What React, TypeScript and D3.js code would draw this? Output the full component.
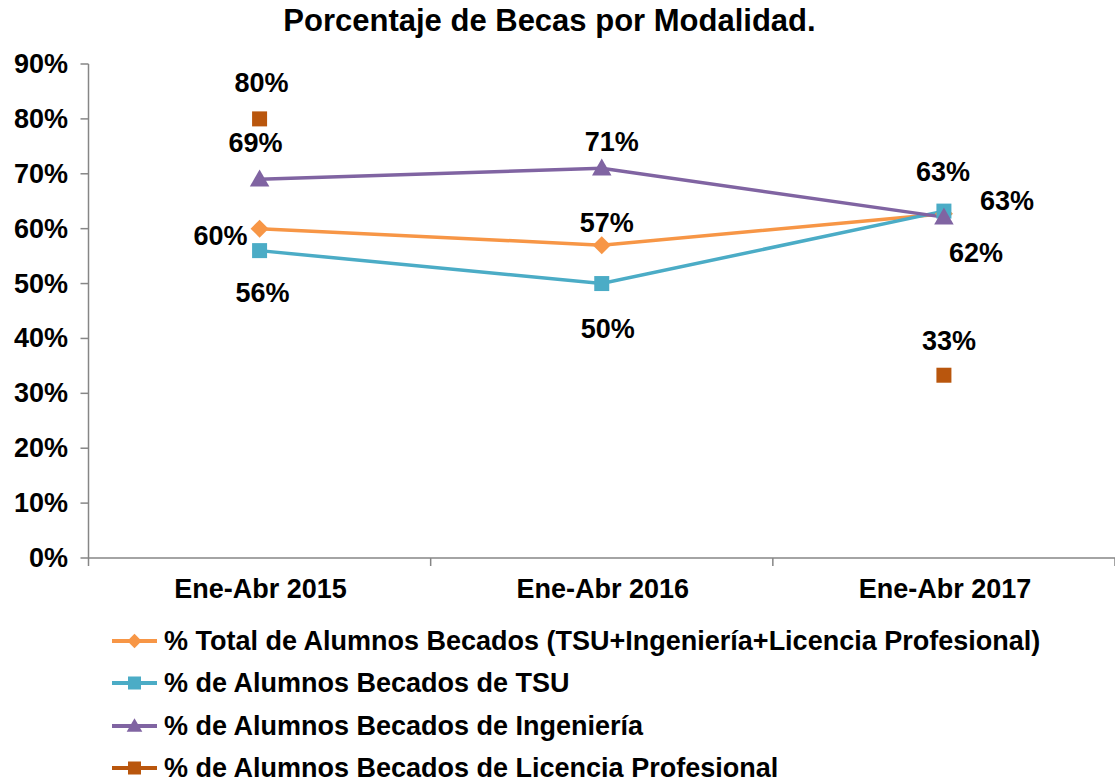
import React from "react";
import * as d3 from "d3";

const categories = ["Ene-Abr 2015", "Ene-Abr 2016", "Ene-Abr 2017"];
const totalValues = [60, 57, 62.7];
const tsuValues = [56, 50, 63.2];
const ingValues = [69, 71, 62.1];
const licValues: (number | null)[] = [80, null, 33.3];
const yTicks = [0, 10, 20, 30, 40, 50, 60, 70, 80, 90];

const seriesNames = [
  "% Total de Alumnos Becados (TSU+Ingeniería+Licencia Profesional)",
  "% de Alumnos Becados de TSU",
  "% de Alumnos Becados de Ingeniería",
  "% de Alumnos Becados de Licencia Profesional",
];

const W = 1115, H = 782;
const left = 88.5, right = 1115, top = 64, bottom = 558;
const FONT = "Liberation Sans, Arial, sans-serif";

// label offsets (dx, dy from the point; dy to baseline)
const labelOffsets: [number, number][][] = [
  [[-39, 16], [5, -13], [63, -4]],
  [[3, 51], [6, 54], [-1, -30]],
  [[-4, -27], [10, -17], [32, 45]],
  [[2, -27], [0, 0], [5, -25]],
];

const series = [
  { name: seriesNames[0], values: totalValues as (number | null)[], color: "#F79646", marker: "diamond", line: true },
  { name: seriesNames[1], values: tsuValues as (number | null)[], color: "#4BACC6", marker: "square", line: true },
  { name: seriesNames[2], values: ingValues as (number | null)[], color: "#8064A2", marker: "triangle", line: true },
  { name: seriesNames[3], values: licValues, color: "#B9560D", marker: "square", line: false },
];

function Marker({ type, x, y, color, size }: { type: string; x: number; y: number; color: string; size: number }) {
  if (type === "square") {
    return <rect x={x - size / 2} y={y - size / 2} width={size} height={size} fill={color} />;
  }
  if (type === "diamond") {
    const s = size * 0.6;
    return <path d={`M${x},${y - s}L${x + s},${y}L${x},${y + s}L${x - s},${y}Z`} fill={color} />;
  }
  const s = size * 0.65;
  return <path d={`M${x},${y - s}L${x + s},${y + s * 0.75}L${x - s},${y + s * 0.75}Z`} fill={color} />;
}

export default function App() {
  const x = d3.scaleBand<string>().domain(categories).range([left, right]);
  const y = d3.scaleLinear().domain([0, 90]).range([bottom, top]);
  const cx = (c: string) => (x(c) as number) + x.bandwidth() / 2;

  const lineGen = d3
    .line<[string, number | null]>()
    .defined((d) => d[1] !== null)
    .x((d) => cx(d[0]))
    .y((d) => y(d[1] as number));

  return (
    <svg width={W} height={H} style={{ display: "block", position: "absolute", left: 0, top: 0 }}>
      <rect x={0} y={0} width={W} height={H} fill="#fff" />
      <text x={549.5} y={31} textAnchor="middle" fontFamily={FONT} fontWeight="bold" fontSize={31} fill="#000">
        Porcentaje de Becas por Modalidad.
      </text>
      {/* y axis */}
      <line x1={left} x2={left} y1={top} y2={bottom} stroke="#868686" strokeWidth={1.5} />
      {yTicks.map((t) => (
        <g key={t}>
          <line x1={left - 8} x2={left} y1={y(t)} y2={y(t)} stroke="#868686" strokeWidth={1.5} />
          <text x={68} y={y(t) + 9} textAnchor="end" fontFamily={FONT} fontWeight="bold" fontSize={27} fill="#000">
            {t}%
          </text>
        </g>
      ))}
      {/* x axis */}
      <line x1={left} x2={right} y1={bottom} y2={bottom} stroke="#868686" strokeWidth={1.5} />
      {[0, 1, 2, 3].map((i) => {
        const xx = left + i * x.bandwidth();
        return <line key={i} x1={xx} x2={xx} y1={bottom} y2={bottom + 8} stroke="#868686" strokeWidth={1.5} />;
      })}
      {categories.map((c) => (
        <text key={c} x={cx(c) + 1} y={598} textAnchor="middle" fontFamily={FONT} fontWeight="bold" fontSize={27} fill="#000">
          {c}
        </text>
      ))}
      {/* lines */}
      {series.map((s, si) =>
        s.line ? (
          <path
            key={"l" + si}
            d={lineGen(categories.map((c, i) => [c, s.values[i]] as [string, number | null])) || ""}
            fill="none"
            stroke={s.color}
            strokeWidth={3.5}
          />
        ) : null
      )}
      {/* markers */}
      {series.map((s, si) =>
        categories.map((c, i) =>
          s.values[i] === null ? null : (
            <Marker key={`m${si}-${i}`} type={s.marker} x={cx(c)} y={y(s.values[i] as number)} color={s.color} size={15} />
          )
        )
      )}
      {/* labels */}
      {series.map((s, si) =>
        categories.map((c, i) => {
          const v = s.values[i];
          if (v === null) return null;
          const [dx, dy] = labelOffsets[si][i];
          return (
            <text
              key={`t${si}-${i}`}
              x={cx(c) + dx}
              y={y(v) + dy}
              textAnchor="middle"
              fontFamily={FONT}
              fontWeight="bold"
              fontSize={27}
              fill="#000"
            >
              {Math.round(v)}%
            </text>
          );
        })
      )}
      {/* legend */}
      {series.map((s, si) => {
        const ly = [641, 683, 726, 768][si];
        return (
          <g key={"lg" + si}>
            <line x1={112} x2={157} y1={ly} y2={ly} stroke={s.color} strokeWidth={4} />
            <Marker type={s.marker} x={134.5} y={ly} color={s.color} size={s.marker === "square" ? 13 : 12} />
            <text x={164} y={ly + 9} fontFamily={FONT} fontWeight="bold" fontSize={27} fill="#000">
              {s.name}
            </text>
          </g>
        );
      })}
    </svg>
  );
}
